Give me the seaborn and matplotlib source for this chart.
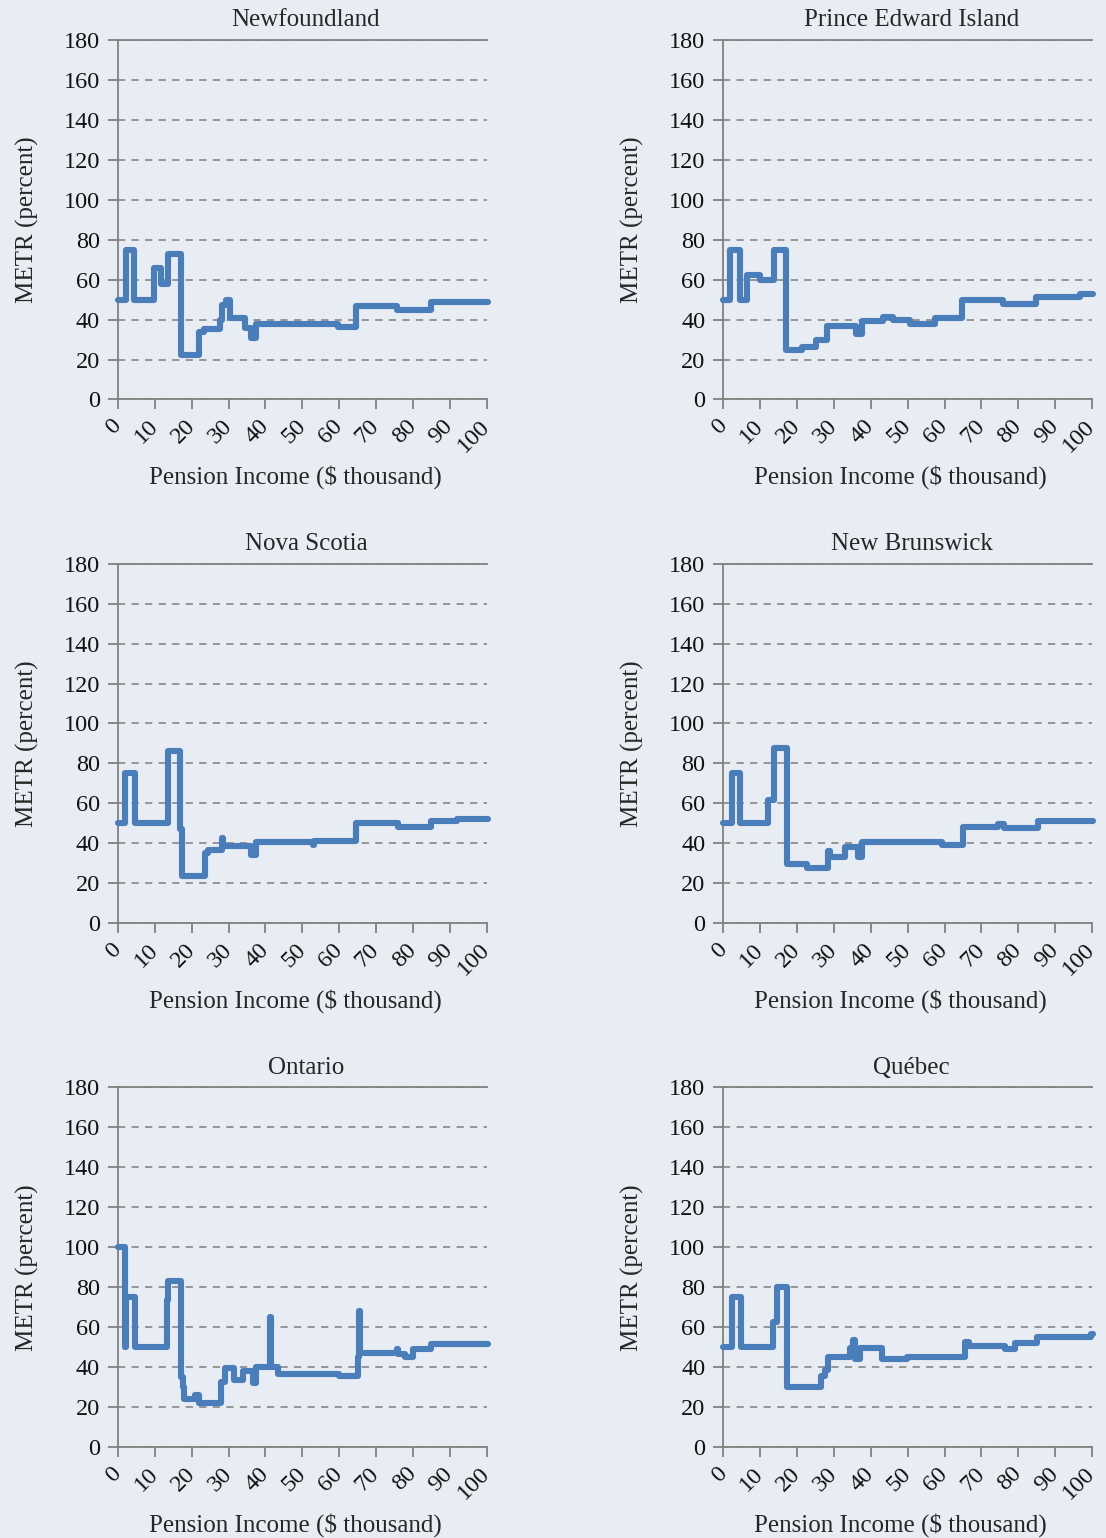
import matplotlib
matplotlib.use('Agg')
import matplotlib.pyplot as plt
import seaborn as sns
import pandas as pd

# step breakpoints (x, $ thousand) and METR values (percent), steps-post
nf_x = [0, 2.1, 4.3, 9.9, 11.7, 13.5, 17, 22.1, 23.3, 27.7, 28.2, 29.3, 30.4, 34.5, 36.1, 37.5, 59.6, 64.6, 75.7, 84.9, 100.3]
nf_y = [50, 75, 50, 66, 58, 73, 22.5, 34, 35.5, 40, 47.5, 50, 41, 36, 31, 37.6, 36.5, 47, 45, 48.6, 48.6]

pei_x = [0, 1.8, 4.5, 6.5, 9.8, 13.6, 17, 21.2, 25.1, 28.2, 36.1, 37.5, 43.2, 46.1, 50.6, 57.4, 64.8, 75.9, 84.9, 96.7, 100.3]
pei_y = [50, 75, 50, 62.5, 60, 75, 25, 26.4, 29.7, 36.8, 32.6, 39.3, 41.5, 40, 38, 41, 49.7, 47.7, 51.4, 52.7, 52.7]

ns_x = [0, 1.8, 4.5, 13.5, 16.7, 17.3, 23.5, 24.4, 28.3, 28.6, 36.1, 37.5, 52.8, 53.3, 64.6, 75.9, 84.9, 92.1, 100.3]
ns_y = [50, 75, 50, 86, 47, 23.5, 35, 36.5, 42.5, 38.8, 34, 40.8, 39, 41, 50, 48.1, 51.3, 52.3, 52.3]

nb_x = [0, 2.3, 4.5, 12.2, 13.8, 17.2, 22.6, 28.5, 28.9, 33, 36.4, 37.7, 59.2, 65, 74.5, 76, 85.4, 100.3]
nb_y = [50, 75, 50, 61.5, 87.5, 29.4, 27.8, 36, 33.4, 38.4, 33.4, 40.9, 39, 48, 49.6, 47.6, 51.3, 51.3]

on_x = [0, 1.8, 2.3, 4.5, 13.4, 13.6, 17, 17.6, 18, 20.8, 22.1, 28, 28.9, 31.6, 33.9, 36.6, 37.5, 41.3, 41.6, 43.4,
        60.1, 65, 65.3, 65.7, 75.7, 76, 78, 80, 84.9, 100.3]
on_y = [100, 50, 75, 50, 73.6, 83.3, 35, 30, 24.2, 26.2, 22, 32.6, 39.6, 33.4, 38, 32, 40, 64.9, 40, 36.4,
        35.4, 45, 68.2, 46.8, 48.8, 46.4, 45.1, 49, 51.8, 51.8]

qc_x = [0, 2.3, 4.8, 13.5, 14.5, 17.2, 26.6, 27.6, 28.5, 34.3, 35.2, 35.6, 37, 43.1, 49.7, 65.5, 66.5, 76.3, 79.2, 85.2, 99.8, 100.4]
qc_y = [50, 75, 50, 62.8, 80, 30, 35.7, 38.7, 45, 49.5, 53.7, 44, 49.5, 44, 44.8, 52.8, 50.7, 49, 52.3, 55, 56.5, 56.5]

titles = ['Newfoundland', 'Prince Edward Island', 'Nova Scotia', 'New Brunswick', 'Ontario', 'Québec']
x_ticks = list(range(0, 101, 10))
y_ticks = list(range(0, 181, 20))

panels = [(nf_x, nf_y), (pei_x, pei_y), (ns_x, ns_y), (nb_x, nb_y), (on_x, on_y), (qc_x, qc_y)]

bg = '#E8ECF3'
sns.set_style('ticks', {'axes.facecolor': bg, 'figure.facecolor': bg})
plt.rcParams['font.family'] = ['Liberation Serif', 'DejaVu Serif']

fig, axes = plt.subplots(3, 2, figsize=(11.06, 15.38), dpi=100)
fig.subplots_adjust(left=0.1067, right=0.9873, top=0.974, bottom=0.0592, wspace=0.643, hspace=0.457)

axcol = '#808080'
for ax, title, (xs, ys) in zip(axes.flat, titles, panels):
    df = pd.DataFrame({'x': xs, 'y': ys})
    sns.lineplot(data=df, x='x', y='y', ax=ax, drawstyle='steps-post', color='#4A7EBB', lw=4.4,
                 sort=False, estimator=None, clip_on=False, solid_joinstyle='round', solid_capstyle='round', zorder=5)
    ax.set_xlim(0, 100)
    ax.set_ylim(0, 180)
    ax.set_xticks(x_ticks)
    ax.set_yticks(y_ticks)
    ax.set_xticklabels([str(t) for t in x_ticks], rotation=45, ha='right', va='center', rotation_mode='anchor')
    ax.yaxis.grid(True, linestyle=(0, (4, 3.5)), color='#8E8E8E', lw=1.3)
    ax.xaxis.grid(False)
    ax.spines['right'].set_visible(False)
    for s in ['top', 'left', 'bottom']:
        ax.spines[s].set_color(axcol)
        ax.spines[s].set_linewidth(1.3)
    ax.tick_params(direction='out', length=7, width=1.3, color=axcol, labelsize=17.5, labelcolor='#111111')
    ax.tick_params(axis='x', pad=10)
    ax.tick_params(axis='y', pad=6)
    ax.set_xlabel('Pension Income ($ thousand)', fontsize=18)
    ax.xaxis.set_label_coords(0.48, -0.183)
    ax.set_ylabel('METR (percent)', fontsize=18, labelpad=18)
    ax.set_title(title, fontsize=18, pad=10, x=0.51)

plt.savefig('out.png', dpi=100, facecolor=bg)
